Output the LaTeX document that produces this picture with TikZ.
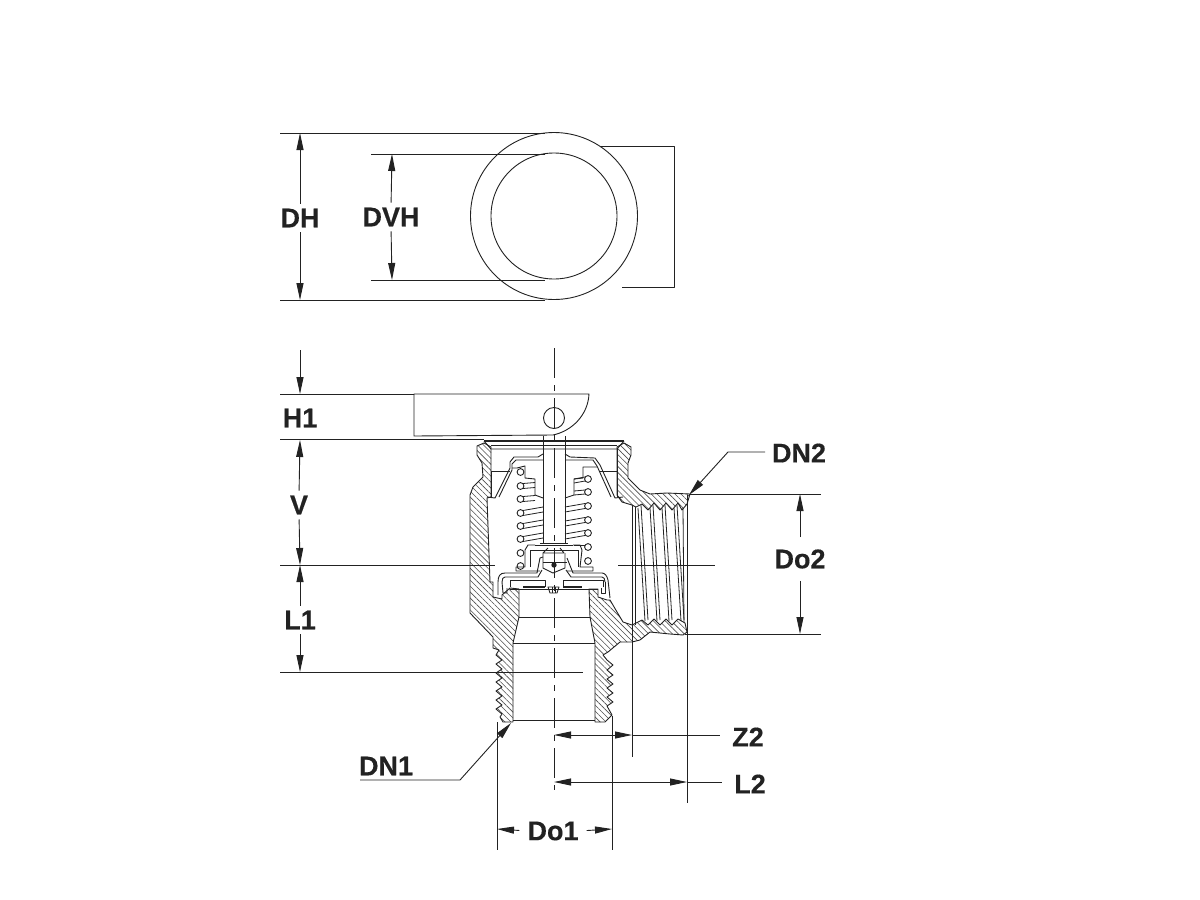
\documentclass[tikz,border=0pt]{standalone}
\usepackage{fontspec}
\setmainfont[BoldFeatures={FakeBold=0.4}]{Liberation Sans}
\usetikzlibrary{arrows.meta,patterns.meta}
\definecolor{ink}{HTML}{222222}
\tikzset{
  ln/.style={draw=ink,line width=.9pt,line join=round},
  thin ln/.style={draw=ink,line width=.8pt},
  thick ln/.style={draw=ink,line width=1.5pt},
  hatched/.style={draw=ink,line width=.9pt,line join=round,pattern={Lines[angle=-45,distance=4.2pt,line width=.6pt]},pattern color=ink!80},
  dim/.style={draw=ink,line width=.9pt},
  dimarrow/.style={dim,-{Triangle[length=17pt,width=7pt]},shorten <=5pt},
  plainarrow/.style={dim,-{Triangle[length=17pt,width=7pt]}},
  lab/.style={font=\fontsize{27}{27}\selectfont\bfseries,text=ink,inner sep=0pt},
  center ln/.style={draw=ink,line width=.8pt,dash pattern=on 30pt off 7pt on 6pt off 7pt},
}
\begin{document}
\begin{tikzpicture}[x=1pt,y=-1pt]
\useasboundingbox[fill=white] (0,0) rectangle (1200,900);

% ---- top view
\draw[ln] (554,216) circle[radius=83.5];
\draw[ln] (554,216) circle[radius=63];
\draw[ln] (600,146) -- (674,146) -- (674,287) -- (622,287);
\draw[dim] (280,133) -- (545,133) (280,300) -- (545,300);
\draw[dim] (371,154) -- (545,154) (371,280) -- (545,280);
\node[lab] (dh) at (300,218) {DH};
\node[lab] (dvh) at (391,217) {DVH};
\coordinate (dht) at (300,133); \coordinate (dhb) at (300,300);
\coordinate (dvt) at (392,154); \coordinate (dvb) at (392,280);
\draw[dimarrow] (dh.north) -- (dht);
\draw[dimarrow] (dh.south) -- (dhb);
\draw[dimarrow] (dvh.north) -- (dvt);
\draw[dimarrow] (dvh.south) -- (dvb);

% ---- hatched body
\draw[hatched] (477,446) -- (484,443) -- (491,447) -- (491,497) -- (487,498) -- (490,582) -- (493,582) -- (493,597) -- (502,599) -- (502,595) -- (510,588) -- (519,589) -- (519,617) -- (513,643) -- (513,722) -- (503,722) -- (500,717) -- (502,714) -- (496,709) -- (502,705) -- (496,700) -- (502,696) -- (496,691) -- (502,687) -- (496,682) -- (502,678) -- (496,673) -- (502,669) -- (496,664) -- (502,660) -- (496,655) -- (499,650) -- (493,648) -- (493,637) -- (470,613) -- (470,495) -- (473,487) -- (483,477) -- (482,463) -- (477,455) -- cycle;
\draw[hatched] (617,447) -- (624,443) -- (631,447) -- (631,455) -- (628,463) -- (628,478) -- (640,490) -- (650,494) -- (667,493) -- (690,494) -- (687,504) -- (682,510) -- (678,503) -- (672,510) -- (666,503) -- (660,510) -- (654,503) -- (648,510) -- (642,504) -- (636,507) -- (632,505) -- (622,502) -- (617,495) -- cycle;
\draw[hatched] (589,589) -- (598,589) -- (598,597) -- (607,600) -- (610,600) -- (617,612) -- (623,622) -- (632,625) -- (642,620) -- (648,625) -- (654,619) -- (660,625) -- (666,619) -- (672,625) -- (678,619) -- (685,623) -- (687,632) -- (683,635) -- (670,634) -- (650,632) -- (640,640) -- (632,642) -- (620,642) -- (608,652) -- (603,655) -- (607,660) -- (613,665) -- (607,670) -- (613,675) -- (607,679) -- (613,684) -- (607,688) -- (613,693) -- (607,697) -- (613,702) -- (607,706) -- (612,715) -- (605,722) -- (595,722) -- (595,643) -- (590,617) -- cycle;

% ---- bore
\draw[ln] (513,720) -- (595,720);
\draw[ln] (519,617) -- (590,617) (513,643) -- (595,643);

% ---- female thread
\draw[ln] (632,505) -- (632,757) (635,507) -- (635,625);
\draw[ln] (687,495) -- (687,803);
\foreach \t in {638,650,662,674}{
  \draw[thin ln] (\t,508) -- (\t+7,621);
  \draw[thin ln] (\t+3,505) -- (\t+10,620);
}
\draw[thin ln] (683,508) -- (684,622);

% ---- lever and cap
\draw[ln] (414,394) -- (589,394) .. controls (588,415) and (572,431) .. (553,435) -- (414,436) -- cycle;
\draw[ln] (554,418) circle[radius=10.5];
\draw[thick ln] (484,441) -- (624,441);
\draw[ln] (484,441) -- (491,449) -- (617,449) -- (624,441);
\draw[ln] (491,445) -- (617,445);

% ---- stem
\draw[ln] (543,436) -- (543,543) (565,436) -- (565,543);
\draw[ln] (540,543) -- (568,543);

% ---- upper spring guide
\draw[ln] (491,471) -- (510,471) (600,471) -- (617,471);
\draw[ln] (487,497) -- (495,498) -- (510,468) -- (510,462) -- (514,457) -- (538,457) -- (543,454);
\draw[ln] (499,497) -- (512,470) -- (512,464) -- (516,460) -- (543,460);
\draw[ln] (512,468) -- (517,468) -- (525,466) -- (525,478) -- (535,479) -- (535,495) -- (543,498);
\draw[ln] (623,497) -- (615,498) -- (600,465) -- (595,458) -- (570,457) -- (565,454);
\draw[ln] (611,497) -- (597,466) -- (593,460) -- (565,460);
\draw[ln] (597,467) -- (583,467) -- (583,478) -- (574,479) -- (574,495) -- (565,498);
\draw[ln] (617,449) -- (617,497) (491,471) -- (491,497);

% ---- spring
\foreach \y in {472,486,499,513,526,539,553,566}{
  \draw[ln] (520.5,\y) circle[radius=3.4];
}
\foreach \y in {479,492,506,520,533,547,561}{
  \draw[ln] (588,\y) circle[radius=3.4];
}
\foreach \a in {486,499}{
  \draw[thin ln] (523,\a-2.5) -- (535,\a-3.5);
  \draw[thin ln] (523,\a+2.5) -- (535,\a+1.5);
}
\foreach \a in {513,526,539}{
  \draw[thin ln] (523,\a-2.5) -- (543,\a-6);
  \draw[thin ln] (523,\a+2.5) -- (543,\a-1);
}
\foreach \a in {506,520,533}{
  \draw[thin ln] (585,\a-2.5) -- (565,\a+1);
  \draw[thin ln] (585,\a+2.5) -- (565,\a+6);
}
\draw[thin ln] (585,490) -- (574,491) (585,494) -- (574,495) (585,477) -- (574,479) (585,481) -- (574,483);
\draw[thin ln] (585,545) -- (574,545);

% ---- disc holder and valve
\draw[ln] (535,545) -- (573,545);
\draw[ln] (535,545) -- (528,545) -- (525,550) -- (525,567) -- (516,567) -- (516,571) -- (540,571);
\draw[ln] (573,545) -- (580,545) -- (582,550) -- (580,567) -- (593,567) -- (593,571) -- (567,571);
\draw[ln] (530,550) -- (530,567) (578,550) -- (578,567);
\draw[ln] (530,550) -- (578,550);
\draw[ln] (543,553) -- (564,553) (548,548) -- (543,553) (560,548) -- (564,553);
\draw[ln] (543,553) -- (543,568) -- (553,573) -- (565,568) -- (565,553);
\draw[ln] (543,562) -- (567,562);
\fill[ink] (554,565) circle[radius=2.7];
\draw[ln] (498,595) -- (498,582) .. controls (498,576) and (500,573) .. (505,573) -- (537,573) -- (540,558) -- (543,557);
\draw[ln] (502,582) .. controls (502,579) and (503,577) .. (505,577) -- (538,577) -- (542,570);
\draw[ln] (610,598) -- (608,580) .. controls (607,576) and (605,573) .. (602,573) -- (573,573) -- (567,558);
\draw[ln] (605,582) .. controls (605,579) and (604,577) .. (602,577) -- (571,577) -- (566,570);
\draw[ln] (510,587) -- (510,580) -- (545,580) -- (545,587);
\draw[ln] (603,587) -- (603,580) -- (563,580) -- (563,587);
\draw[ln] (502,582) -- (503,593) -- (507,593) -- (507,588);
\draw[ln] (605,582) -- (605,593) -- (601,593) -- (601,588);
\draw[ln] (510,589) -- (598,589);
\draw[thick ln] (523,587) -- (545,587) (563,587) -- (582,587);
\draw[ln] (548,587) -- (559,587) -- (557,593) -- (550,593) -- cycle;
\draw[thin ln] (552,587) -- (552,593) (555,587) -- (555,593);

% ---- centre lines
\draw[center ln] (554,348) -- (554,790);
\draw[dim] (280,565) -- (495,565) (618,565) -- (715,565);
\draw[dim] (280,672) -- (583,672);

% ---- side dimensions
\draw[dim] (280,394) -- (414,394);
\draw[dim] (280,439) -- (484,439);
\coordinate (h1s) at (300,350); \coordinate (h1e) at (300,394);
\coordinate (vt) at (300,440); \coordinate (vb) at (300,565);
\coordinate (lt) at (300,565); \coordinate (lb) at (300,672);
\draw[plainarrow] (h1s) -- (h1e);
\node[lab] (h1) at (300,418) {H1};
\node[lab] (v) at (299,505) {V};
\node[lab] (l1) at (300,620) {L1};
\draw[dimarrow] (v.north) -- (vt);
\draw[dimarrow] (v.south) -- (vb);
\draw[dimarrow] (l1.north) -- (lt);
\draw[dimarrow] (l1.south) -- (lb);

% ---- Do2
\draw[dim] (690,494) -- (821,494) (685,634) -- (821,634);
\node[lab] (do2) at (800,559) {Do2};
\coordinate (d2t) at (800,494); \coordinate (d2b) at (800,634);
\draw[dimarrow,shorten <=12pt] (do2.north) -- (d2t);
\draw[dimarrow,shorten <=12pt] (do2.south) -- (d2b);

% ---- leaders
\node[lab] (dn2) at (799,453) {DN2};
\node[lab] (dn1) at (386,766) {DN1};
\coordinate (dn2a) at (765,452); \coordinate (dn2b) at (728,452); \coordinate (dn2c) at (689,495);
\coordinate (dn1a) at (360,780); \coordinate (dn1b) at (460,780); \coordinate (dn1c) at (511,723);
\draw[plainarrow] (dn2a) -- (dn2b) -- (dn2c);
\draw[plainarrow] (dn1a) -- (dn1b) -- (dn1c);

% ---- Z2, L2, Do1
\node[lab] (z2) at (748,737) {Z2};
\node[lab] (l2) at (750,784) {L2};
\node[lab] (do1) at (553,831) {Do1};
\coordinate (zl) at (554,735); \coordinate (zr) at (632,735); \coordinate (ze) at (720,735);
\coordinate (ll) at (554,782); \coordinate (lr) at (687,782); \coordinate (le) at (722,782);
\coordinate (dl) at (497,829); \coordinate (dr) at (612,829);
\draw[dim] (zr) -- (ze) (lr) -- (le);
\draw[dim,{Triangle[length=17pt,width=7pt]}-{Triangle[length=17pt,width=7pt]}] (zl) -- (zr);
\draw[dim,{Triangle[length=17pt,width=7pt]}-{Triangle[length=17pt,width=7pt]}] (ll) -- (lr);
\draw[dimarrow,shorten <=8pt] (do1.west) -- (dl);
\draw[dimarrow,shorten <=8pt] (do1.east) -- (dr);
\draw[dim] (497,722) -- (497,850) (612,716) -- (612,850);
\end{tikzpicture}
\end{document}
